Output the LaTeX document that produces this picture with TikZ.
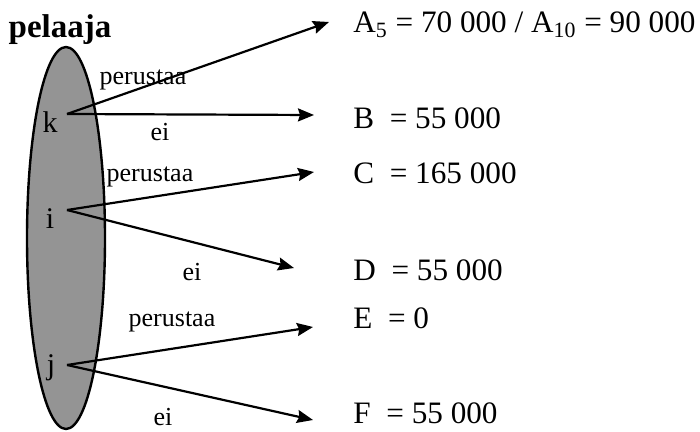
\documentclass[tikz,border=0pt]{standalone}
\usepackage{fontspec}
\setmainfont{Liberation Serif}
\usetikzlibrary{arrows.meta}
\begin{document}
\begin{tikzpicture}[x=0.5pt,y=-0.5pt,
  pay/.style={anchor=west,font=\fontsize{15.6}{18}\selectfont,inner sep=0pt},
  lab/.style={font=\fontsize{13}{15}\selectfont,inner sep=0pt},
  arr/.style={-{Stealth[length=8pt,width=6.5pt,inset=1pt]},line width=1.1pt}]
  \useasboundingbox (0,0) rectangle (700,432);
  % the player set
  \draw[line width=1.2pt,fill=black!42] (66,238) ellipse [x radius=39,y radius=191];
  \node[font=\fontsize{16.5}{19}\selectfont\bfseries] (pel) at (60,30) {pelaaja};
  \node[lab,font=\fontsize{15}{17}\selectfont] (k) at (50,122) {k};
  \node[lab,font=\fontsize{15}{17}\selectfont] (i) at (50,219) {i};
  \node[lab,font=\fontsize{15}{17}\selectfont] (j) at (51,368) {j};
  \coordinate (ko) at (67,114);
  \coordinate (io) at (67,210);
  \coordinate (jo) at (67,365);
  % payoffs
  \node[pay] (a) at (353,25) {A\textsubscript{5} = 70 000 / A\textsubscript{10} = 90 000};
  \node[pay] (b) at (353,118) {B\ \ = 55 000};
  \node[pay] (c) at (353,173) {C\ \ = 165 000};
  \node[pay] (d) at (353,270) {D\ \ = 55 000};
  \node[pay] (e) at (353,318) {E\ \ = 0};
  \node[pay] (f) at (353,413) {F\ \ = 55 000};
  \coordinate (ta) at (329,22);
  \coordinate (tb) at (314,115);
  \coordinate (tc) at (314,172);
  \coordinate (td) at (294,268);
  \coordinate (te) at (313,327);
  \coordinate (tf) at (313,420);
  \draw[arr] (ko) -- (ta);
  \draw[arr] (ko) -- (tb);
  \draw[arr] (io) -- (tc);
  \draw[arr] (io) -- (td);
  \draw[arr] (jo) -- (te);
  \draw[arr] (jo) -- (tf);
  % choices
  \node[lab] (p1) at (143,80) {perustaa};
  \node[lab] (e1) at (160,132) {ei};
  \node[lab] (p2) at (150,177) {perustaa};
  \node[lab] (e2) at (192,272) {ei};
  \node[lab] (p3) at (172,322) {perustaa};
  \node[lab] (e3) at (163,417) {ei};
\end{tikzpicture}
\end{document}
